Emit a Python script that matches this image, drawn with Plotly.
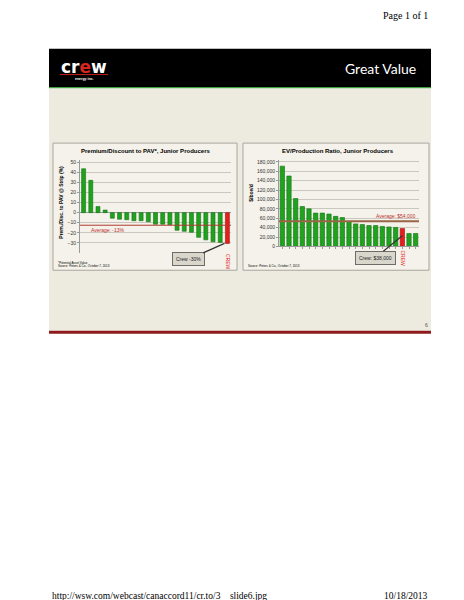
import plotly.graph_objects as go

W, H = 464, 600

# ---------------- data ----------------
left_categories = list(range(21))
left_ticktext = [""] * 20 + ["CREW"]
left_values = [43.5, 32, 6, 2.5, -5.5, -6.5, -7, -8, -8, -9, -11.5, -11.5, -12,
               -17.5, -18.5, -19.5, -24.5, -27, -29, -29.5, -30.5]
left_average = -12.5
left_ticks = [50, 40, 30, 20, 10, 0, -10, -20, -30]

right_categories = list(range(21))
right_ticktext = [""] * 18 + ["CREW", "", ""]
right_values = [171000, 150000, 102000, 85000, 80000, 71000, 71000, 69000, 64000,
                61500, 53000, 48000, 46500, 44500, 44500, 42500, 41500, 40500,
                38000, 27500, 27500]
right_average = 53500
right_ticks = [0, 20000, 40000, 60000, 80000, 100000, 120000, 140000, 160000, 180000]

GREEN = "#1FA31F"
GREEN_DARK = "#137013"
RED = "#E3201C"


def px(x):
    return x / W


def py(y):
    return 1 - y / H


left_colors = [GREEN] * 20 + [RED]
right_colors = [GREEN] * 18 + [RED] + [GREEN] * 2

fig = go.Figure()
fig.add_trace(go.Bar(x=left_categories, y=left_values, marker_color=left_colors,
                     marker_line_color=[GREEN_DARK] * 20 + ["#A01010"], marker_line_width=0.6,
                     width=0.55, xaxis="x", yaxis="y", showlegend=False))
fig.add_trace(go.Bar(x=right_categories, y=right_values, marker_color=right_colors,
                     marker_line_color=[GREEN_DARK] * 18 + ["#A01010"] + [GREEN_DARK] * 2,
                     marker_line_width=0.6, width=0.65, xaxis="x2", yaxis="y2", showlegend=False))

# average lines
fig.add_trace(go.Scatter(x=[-0.5, 20.5], y=[left_average, left_average], mode="lines",
                         line=dict(color="#B03A30", width=1), xaxis="x", yaxis="y",
                         showlegend=False, hoverinfo="skip"))
fig.add_trace(go.Scatter(x=[-0.5, 20.5], y=[right_average, right_average], mode="lines",
                         line=dict(color="#9A6448", width=2), xaxis="x2", yaxis="y2",
                         showlegend=False, hoverinfo="skip"))

tickfont = dict(family="Liberation Sans", size=5, color="#333333")
grid = "#C9C7BE"

fig.update_layout(
    width=W, height=H,
    margin=dict(l=0, r=0, t=0, b=0),
    paper_bgcolor="white",
    plot_bgcolor="rgba(0,0,0,0)",
    bargap=0.3,
    xaxis=dict(domain=[px(72), px(223)], range=[-0.5, 20.5],
               tickvals=left_categories, ticktext=left_ticktext, tickangle=90,
               tickfont=dict(family="Liberation Sans", size=5, color=RED),
               showgrid=False, zeroline=False, showline=False,
               ticks="", fixedrange=True),
    yaxis=dict(domain=[py(245.6), py(152.2)], range=[-40, 52],
               tickvals=left_ticks, tickfont=tickfont,
               showgrid=True, gridcolor=grid, gridwidth=0.8,
               zeroline=True, zerolinecolor="#9A9A9A", zerolinewidth=1,
               showline=True, linecolor="#9A9A9A", linewidth=1,
               ticks="outside", ticklen=2, tickcolor="#9A9A9A"),
    xaxis2=dict(domain=[px(271), px(411)], range=[-0.5, 20.5],
                tickvals=right_categories, ticktext=right_ticktext, tickangle=90,
                tickfont=dict(family="Liberation Sans", size=5, color=RED),
                showgrid=False, zeroline=False, showline=True, linecolor="#9A9A9A",
                ticks="outside", ticklen=2, tickcolor="#9A9A9A", anchor="y2"),
    yaxis2=dict(domain=[py(239), py(151.6)], range=[0, 185000],
                tickvals=right_ticks, tickformat=",d", tickfont=tickfont,
                showgrid=True, gridcolor=grid, gridwidth=0.8,
                zeroline=False, showline=True, linecolor="#9A9A9A", linewidth=1,
                ticks="outside", ticklen=2, tickcolor="#9A9A9A", anchor="x2"),
)

shapes = []
# slide header
shapes.append(dict(type="rect", xref="paper", yref="paper", x0=px(41), x1=px(423),
                   y0=py(79), y1=py(40), fillcolor="black", line_width=0, layer="below"))
shapes.append(dict(type="rect", xref="paper", yref="paper", x0=px(41), x1=px(423),
                   y0=py(80), y1=py(78.5), fillcolor="#3DA23D", line_width=0, layer="below"))
# slide body
shapes.append(dict(type="rect", xref="paper", yref="paper", x0=px(41), x1=px(423),
                   y0=py(324), y1=py(80), fillcolor="#EDEADF", line_width=0, layer="below"))
shapes.append(dict(type="rect", xref="paper", yref="paper", x0=px(41), x1=px(423),
                   y0=py(327), y1=py(324), fillcolor="#8E1B1B", line_width=0, layer="below"))
# logo underline
shapes.append(dict(type="line", xref="paper", yref="paper", x0=px(52), x1=px(100),
                   y0=py(66), y1=py(66), line=dict(color="#C0201C", width=1)))
# chart panels
for x0, x1 in [(45, 229), (235, 421)]:
    shapes.append(dict(type="rect", xref="paper", yref="paper", x0=px(x0), x1=px(x1),
                       y0=py(263), y1=py(135), fillcolor="#F4F2EA",
                       line=dict(color="#A8A69E", width=1), layer="below"))
fig.update_layout(shapes=shapes)

ann = []


def text(x, y, s, size, color="black", family="Liberation Sans", xanchor="center",
         yanchor="middle", angle=0):
    ann.append(dict(xref="paper", yref="paper", x=px(x), y=py(y), text=s, showarrow=False,
                    font=dict(family=family, size=size, color=color), xanchor=xanchor,
                    yanchor=yanchor, textangle=angle))


text(422, 7, "Page 1 of 1", 10, family="Liberation Serif", xanchor="right")
text(42, 591, "http://wsw.com/webcast/canaccord11/cr.to/3__slide6.jpg", 9.5,
     family="Liberation Serif", xanchor="left")
text(422, 591, "10/18/2013", 9.5, family="Liberation Serif", xanchor="right")

text(76, 58, "<b>cr<span style='color:#D8261E'>e</span>w</b>", 17, color="white",
     family="DejaVu Sans")
text(76, 70, "<b>energy inc.</b>", 3.5, color="white")
text(410, 60, "Great Value", 14, color="white", family="Lato", xanchor="right")
text(418, 318, "6", 5, color="#555555")

text(137, 143, "<b>Premium/Discount to PAV*, Junior Producers</b>", 6)
text(330, 143, "<b>EV/Production Ratio, Junior Producers</b>", 6)
text(53, 195, "<b>Prem./Disc. to PAV @ Strip (%)</b>", 5, angle=-90)
text(243, 185, "<b>$/boe/d</b>", 5, angle=-90)
text(48, 256, "*Potential Asset Value", 3, xanchor="left")
text(48, 259, "Source: Peters & Co., October 7, 2013", 3, xanchor="left")
text(238, 259, "Source: Peters & Co., October 7, 2013", 3, xanchor="left")

fig.update_layout(annotations=ann)

# average labels (data-positioned)
fig.add_annotation(x=0.7, y=left_average, xref="x", yref="y", yshift=-5, text="Average: -13%",
                   showarrow=False, xanchor="left",
                   font=dict(family="Liberation Sans", size=5, color="#C0302A"))
fig.add_annotation(x=20.3, y=right_average, xref="x2", yref="y2", yshift=5,
                   text="Average: $54,000", showarrow=False, xanchor="right",
                   font=dict(family="Liberation Sans", size=5, color="#C0302A"))

# Crew callouts
fig.add_annotation(x=19.6, y=left_values[20], xref="x", yref="y", ax=-36, ay=16,
                   text="Crew -30%", showarrow=True, arrowhead=0, arrowwidth=1.2,
                   arrowcolor="#333333", bgcolor="#D9D6CC", bordercolor="#6E6C66",
                   borderwidth=1, borderpad=3,
                   font=dict(family="Liberation Sans", size=5, color="#222222"))
fig.add_annotation(x=18, y=right_values[18] * 0.6, xref="x2", yref="y2", ax=-27, ay=22,
                   text="Crew: $38,000", showarrow=True, arrowhead=0, arrowwidth=1.2,
                   arrowcolor="#333333", bgcolor="#D9D6CC", bordercolor="#6E6C66",
                   borderwidth=1, borderpad=3,
                   font=dict(family="Liberation Sans", size=5, color="#222222"))

fig.write_html("out.html")
